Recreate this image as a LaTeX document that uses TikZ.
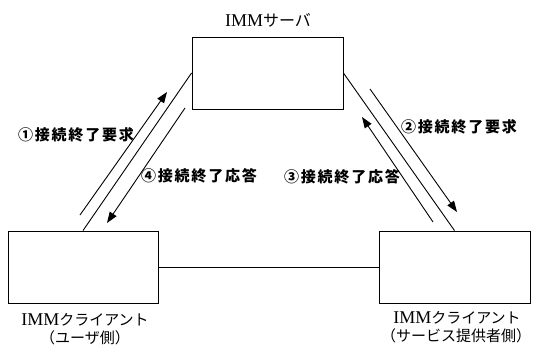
\documentclass[tikz,border=0pt]{standalone}
\usepackage{fontspec}
\setmainfont{Liberation Serif}
\newfontfamily\jp{Noto Sans CJK JP}
\newfontfamily\jpb{Noto Sans CJK JP}[LetterSpace=12]
\usetikzlibrary{arrows.meta}
\newcommand\jpt[1]{{\jp\fontsize{15pt}{17pt}\selectfont #1}}
\begin{document}
\begin{tikzpicture}[x=1pt,y=-1pt, line width=0.9pt,
  box/.style={draw, minimum width=151pt, minimum height=72pt, inner sep=0pt},
  ttl/.style={inner sep=0pt, font=\fontsize{18pt}{20pt}\selectfont},
  msg/.style={inner sep=0pt, font=\jpb\bfseries\fontsize{15pt}{18pt}\selectfont},
  arr/.style={-{Triangle[length=11pt,width=8pt]}}]
\useasboundingbox (0,0) rectangle (536,348);
% boxes
\node[box] (srv) at (267.5,73) {};
\node[box, minimum width=150pt] (cu) at (83,267) {};
\node[box] (cs) at (454.5,267) {};
% box labels
\node[ttl] (srvl) at (268,20) {IMM{\jp\fontsize{16pt}{18pt}\selectfont サーバ}};
\node[ttl] (cul1) at (85,320) {IMM\jpt{クライアント}};
\node[ttl] (cul2) at (85,338) {\jpt{（ユーザ側）}};
\node[ttl] (csl1) at (457,318) {IMM\jpt{クライアント}};
\node[ttl] (csl2) at (456,336) {\jpt{（サービス提供者側）}};
% main links
\draw (srv.west) -- (cu.north);
\draw (srv.east) -- (cs.north);
\draw (cu.east) -- (cs.west);
% message arrows
\coordinate (a1s) at (80,215);  \coordinate (a1e) at (167,92);
\coordinate (a4s) at (185,108); \coordinate (a4e) at (107,223);
\coordinate (a2s) at (370,89);  \coordinate (a2e) at (457,212);
\coordinate (a3s) at (433,222); \coordinate (a3e) at (362,117);
\draw[arr] (a1s) -- (a1e);
\draw[arr] (a4s) -- (a4e);
\draw[arr] (a2s) -- (a2e);
\draw[arr] (a3s) -- (a3e);
% message labels
\node[msg] (m1) at (76,135) {①接続終了要求};
\node[msg] (m4) at (199,176) {④接続終了応答};
\node[msg] (m2) at (459,127) {②接続終了要求};
\node[msg] (m3) at (342,177) {③接続終了応答};
\end{tikzpicture}
\end{document}
